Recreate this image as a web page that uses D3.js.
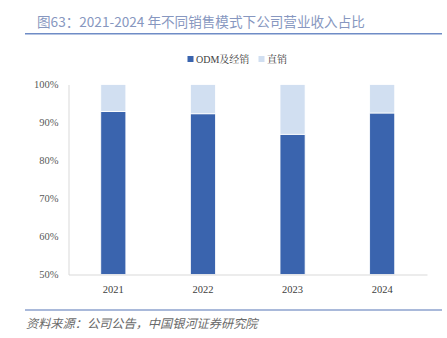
<!DOCTYPE html>
<html>
<head>
<meta charset="utf-8">
<script src="https://cdn.jsdelivr.net/npm/d3@7"></script>
<style>
  html, body { margin: 0; padding: 0; background: #fff; }
  svg { display: block; }
</style>
</head>
<body>
<svg id="chart" width="447" height="338"></svg>
<script>
// Revenue share by sales channel, 2021-2024
const years = ["2021", "2022", "2023", "2024"];
const odmDistribution = [92.9, 92.3, 86.9, 92.5];   // ODM及经销 (%)
const directSales = [7.1, 7.7, 13.1, 7.5];           // 直销 (%)
const yTicks = [50, 60, 70, 80, 90, 100];
const seriesNames = ["ODM及经销", "直销"];
const seriesColors = ["#3a64ae", "#d1dff1"];

const svg = d3.select("#chart");
const serif = "'Liberation Serif', 'Times New Roman', 'Noto Serif CJK SC', serif";
const cjk = "'Noto Sans CJK SC', 'Noto Sans', sans-serif";

// Title and rules
svg.append("text")
  .attr("x", 37).attr("y", 27)
  .attr("font-family", cjk).attr("font-size", 13.6)
  .attr("fill", "#8797c0")
  .text("图63：2021-2024 年不同销售模式下公司营业收入占比");
svg.append("line")
  .attr("x1", 25).attr("x2", 442).attr("y1", 33.8).attr("y2", 33.8)
  .attr("stroke", "#6f8cc6").attr("stroke-width", 1.4);
svg.append("line")
  .attr("x1", 25).attr("x2", 442).attr("y1", 310).attr("y2", 310)
  .attr("stroke", "#a9b9da").attr("stroke-width", 2);
svg.append("text")
  .attr("x", 26).attr("y", 328)
  .attr("font-family", cjk).attr("font-size", 12.2)
  .attr("font-style", "italic")
  .attr("fill", "#6a6a6a")
  .text("资料来源：公司公告，中国银河证券研究院");

// Scales
const x = d3.scaleBand().domain(years).range([68.5, 427]).paddingInner(0.72).paddingOuter(0.36);
const y = d3.scaleLinear().domain([50, 100]).range([274.5, 84.5]);

// Stacked data
const rows = years.map((yr, i) => ({ year: yr, odm: odmDistribution[i], direct: directSales[i] }));
const stack = d3.stack().keys(["odm", "direct"]);
const layers = stack(rows);

const plot = svg.append("g");
plot.selectAll("g.layer")
  .data(layers)
  .join("g")
  .attr("class", "layer")
  .attr("fill", (d, i) => seriesColors[i])
  .selectAll("rect")
  .data(d => d)
  .join("rect")
  .attr("x", d => x(d.data.year))
  .attr("width", x.bandwidth())
  .attr("y", d => y(Math.min(100, d[1])))
  .attr("height", d => y(Math.max(50, d[0])) - y(Math.min(100, d[1])))
  .attr("stroke", "#ffffff")
  .attr("stroke-width", 0.8);

// Axes
const yAxis = d3.axisLeft(y).tickValues(yTicks).tickFormat(d => d + "%").tickSize(0).tickPadding(10);
const gy = svg.append("g").attr("transform", "translate(68.5,0)").call(yAxis);
gy.select(".domain").attr("stroke", "#d9d9d9");
gy.selectAll("text").attr("font-family", serif).attr("font-size", 10.5).attr("fill", "#595959");

const xAxis = d3.axisBottom(x).tickSize(0).tickPadding(11);
const gx = svg.append("g").attr("transform", "translate(0,274.5)").call(xAxis);
gx.select(".domain").attr("stroke", "#d9d9d9");
gx.selectAll("text").attr("font-family", serif).attr("font-size", 10.5).attr("fill", "#404040");

// Legend
const legendItems = [
  { name: seriesNames[0], color: seriesColors[0], x: 187.5 },
  { name: seriesNames[1], color: seriesColors[1], x: 258.5 }
];
const lg = svg.append("g").selectAll("g").data(legendItems).join("g")
  .attr("transform", d => `translate(${d.x},56)`);
lg.append("rect").attr("width", 6).attr("height", 6).attr("fill", d => d.color);
lg.append("text")
  .attr("x", 8.5).attr("y", 6.8)
  .attr("font-family", serif).attr("font-size", 10)
  .attr("fill", "#404040")
  .text(d => d.name);
</script>
</body>
</html>
